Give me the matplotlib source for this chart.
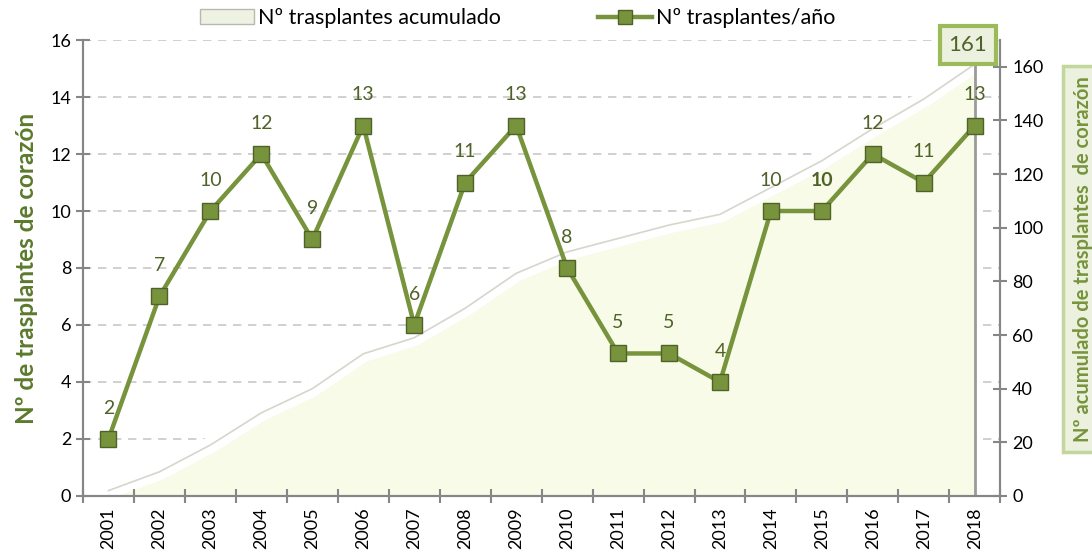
import numpy as np
import matplotlib.pyplot as plt
from matplotlib.patches import Patch
from matplotlib.lines import Line2D

plt.rcParams['font.family'] = ['Lato', 'DejaVu Sans']

years = ['2001', '2002', '2003', '2004', '2005', '2006', '2007', '2008', '2009',
         '2010', '2011', '2012', '2013', '2014', '2015', '2016', '2017', '2018']
per_year = [2, 7, 10, 12, 9, 13, 6, 11, 13, 8, 5, 5, 4, 10, 10, 12, 11, 13]
cumulative = [2, 9, 19, 31, 40, 53, 59, 70, 83, 91, 96, 101, 105, 115, 125, 137, 148, 161]

green = '#77933c'
dark_green = '#4f6228'
axis_gray = '#868686'

x = np.arange(len(years))

fig = plt.figure(figsize=(10.92, 5.56), dpi=100)
ax = fig.add_axes([0.076, 0.108, 0.840, 0.820])
ax2 = ax.twinx()
ax.set_zorder(2)
ax2.set_zorder(1)
ax.patch.set_visible(False)

# gridlines drawn on the back axes, placed by the left scale
for t in range(2, 17, 2):
    ax2.plot([0, 1], [t, t], transform=ax.get_yaxis_transform(),
             color='#c8c8c8', lw=1.2, ls=(0, (5, 4)), zorder=0)

# cumulative area
ax2.fill_between(x, 0, cumulative, color='#f7fbe8', lw=0, zorder=1)
ax2.plot(x, cumulative, color='white', lw=12, solid_capstyle='butt', zorder=2)
ax2.plot(x, cumulative, color='#d6d6cc', lw=1.2, zorder=3)
ax2.vlines(x[-1], 0, cumulative[-1], color='#9a9a9a', lw=2, zorder=3)
ax2.set_ylim(0, 170)
ax2.set_yticks(range(0, 161, 20))

# per-year line
ax.plot(x, per_year, color=green, lw=3.2, marker='s', ms=11,
        mfc=green, mec=dark_green, mew=1, zorder=5)
for xi, v, yr in zip(x, per_year, years):
    ax.annotate(str(v), (xi, v), xytext=(0, 22), textcoords='offset points',
                ha='center', va='center', fontsize=14, color=dark_green,
                fontweight='bold' if yr == '2015' else 'normal')

ax.set_xlim(-0.5, len(years) - 0.5)
ax.set_ylim(0, 16)
ax.set_yticks(range(0, 17, 2))
ax.set_xticks(x)
ax.set_xticklabels(years, rotation=90)
ax.set_xticks(np.arange(-0.5, len(years), 1), minor=True)
ax.tick_params(axis='x', which='major', length=0, labelsize=13, pad=8)
ax.tick_params(axis='x', which='minor', length=10, direction='inout', color=axis_gray, width=1.5)
ax.tick_params(axis='y', length=10, direction='inout', color=axis_gray, width=1.5, labelsize=13)
ax2.tick_params(axis='y', length=10, direction='inout', color=axis_gray, width=1.5, labelsize=13)

for a in (ax, ax2):
    a.spines['top'].set_visible(False)
    for s in ('left', 'right', 'bottom'):
        a.spines[s].set_color(axis_gray)
        a.spines[s].set_linewidth(1.5)

ax.set_ylabel('Nº de trasplantes de corazón', fontsize=17.5, fontweight='bold',
              color='#5b7a2c', labelpad=9)

fig.text(0.992, 0.534, 'Nº acumulado de trasplantes  de corazón', rotation=90,
         ha='center', va='center', fontsize=14.5, fontweight='bold', color=green,
         bbox=dict(boxstyle='square,pad=0.5', fc='#ebf1de', ec='#c3d69b', lw=2.5))

ax2.annotate(str(cumulative[-1]), (x[-1], cumulative[-1]), xytext=(-5, 14),
             textcoords='offset points', ha='center', va='center', fontsize=16,
             color=dark_green,
             bbox=dict(boxstyle='square,pad=0.4', fc='#ebf1de', ec='#9bbb59', lw=3))

handles = [Patch(facecolor='#eef2e2', edgecolor='#b8b8b0', lw=1),
           Line2D([], [], color=green, lw=3.2, marker='s', ms=10, mfc=green, mec=dark_green)]
fig.legend(handles, ['Nº trasplantes acumulado', 'Nº trasplantes/año'],
           loc='center', bbox_to_anchor=(0.474, 0.967), ncol=2, frameon=False,
           fontsize=15.5, handlelength=2.5, handletextpad=0.2, columnspacing=4.5)

fig.savefig('out.png', dpi=100)
